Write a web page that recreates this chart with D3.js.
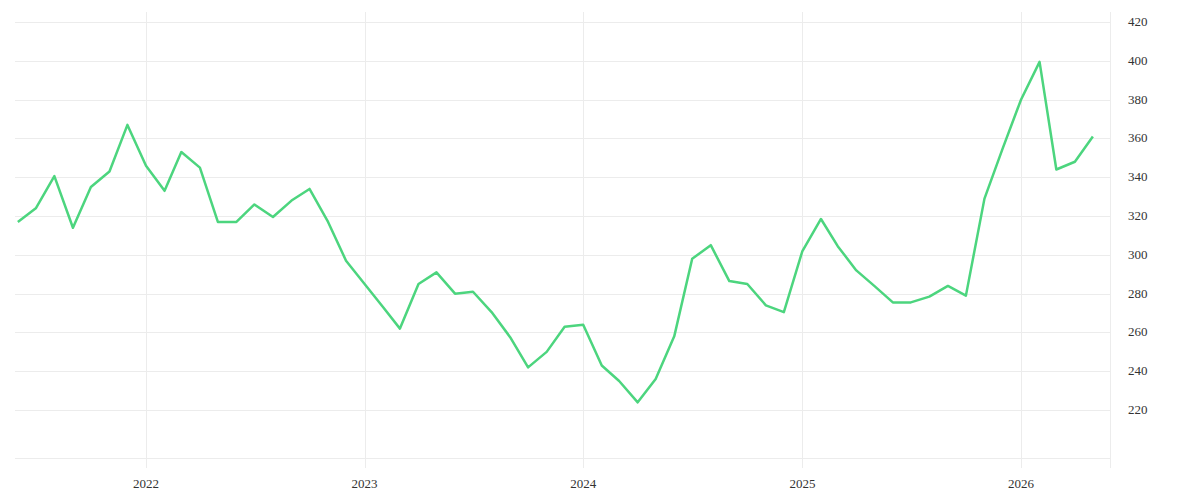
<!DOCTYPE html>
<html><head><meta charset="utf-8">
<script src="https://cdn.jsdelivr.net/npm/d3@7"></script>
<style>body{margin:0;background:#fff}text{font-family:"Liberation Serif",serif;font-size:13px;fill:#333}</style>
</head><body><svg id="c" width="1200" height="500"></svg>
<script>
const startMonth = [2021, 5] // June 2021
const values = [317,324,340.6,314,335,343,367,346,333,353,345,317,317,326,319.5,328,334,317,297,285,273,262,285,291,280,281,270.5,257.6,242,250,263,264,243,235,224,236,258,298,305,286.5,285,274,270.5,302,318.5,304.5,292,284,275.5,275.5,278.5,284,279,329,354.5,380,399.5,344,348,361]
const yTicks = [220,240,260,280,300,320,340,360,380,400,420]
const xYears = [2022,2023,2024,2025,2026]

const dates = values.map((v, i) => new Date(startMonth[0], startMonth[1] + i, 1))
const svg = d3.select('#c')
const plotLeft = 15, plotRight = 1110, plotTop = 12, plotBottom = 458

const x = d3.scaleTime()
  .domain([new Date(2022, 0, 1), new Date(2026, 0, 1)])
  .range([146, 1021])
const y = d3.scaleLinear().domain([195.3, 425.2]).range([plotBottom, plotTop])

const grid = svg.append('g').attr('stroke', '#ececec').attr('stroke-width', 1)
grid.selectAll('.h').data(yTicks).enter().append('line')
  .attr('x1', plotLeft).attr('x2', plotRight)
  .attr('y1', d => Math.round(y(d)) + 0.5).attr('y2', d => Math.round(y(d)) + 0.5)
grid.append('line').attr('x1', plotLeft).attr('x2', plotRight).attr('y1', plotBottom + 0.5).attr('y2', plotBottom + 0.5)
grid.selectAll('.v').data(xYears).enter().append('line')
  .attr('x1', d => Math.round(x(new Date(d, 0, 1))) + 0.5).attr('x2', d => Math.round(x(new Date(d, 0, 1))) + 0.5)
  .attr('y1', plotTop).attr('y2', 468)
grid.append('line').attr('x1', plotRight + 0.5).attr('x2', plotRight + 0.5).attr('y1', plotTop).attr('y2', 468)

// y labels on right
svg.append('g').selectAll('text').data(yTicks).enter().append('text')
  .attr('x', 1128).attr('y', d => y(d) + 4).text(d => d)

// x labels
svg.append('g').selectAll('text').data(xYears).enter().append('text')
  .attr('x', d => x(new Date(d, 0, 1))).attr('y', 488)
  .attr('text-anchor', 'middle').text(d => d)

const line = d3.line().x((d, i) => x(dates[i])).y(d => y(d))
svg.append('path').datum(values)
  .attr('fill', 'none').attr('stroke', '#4cd57e').attr('stroke-width', 2.5)
  .attr('stroke-linejoin', 'round')
  .attr('d', line)
</script></body></html>
